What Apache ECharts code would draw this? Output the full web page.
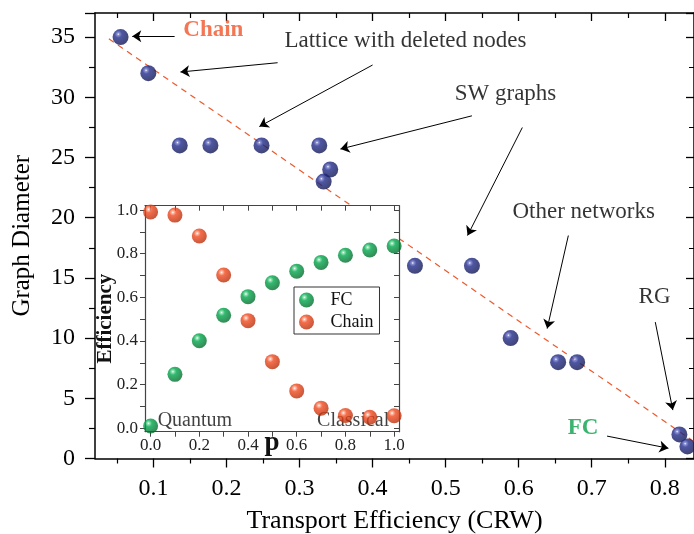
<!DOCTYPE html>
<html>
<head>
<meta charset="utf-8">
<script src="https://cdn.jsdelivr.net/npm/echarts@6/dist/echarts.min.js"></script>
<style>
html,body{margin:0;padding:0;background:#fff;}
#main{width:694px;height:534px;}
</style>
</head>
<body>
<div id="main"></div>
<script>
// main plot: transport efficiency vs graph diameter
var netPoints = [
	[0.055, 35], [0.093, 32], [0.136, 26], [0.178, 26], [0.248, 26],
	[0.327, 26], [0.342, 24], [0.333, 23], [0.458, 16], [0.536, 16],
	[0.589, 10], [0.654, 8], [0.680, 8], [0.820, 2], [0.831, 1]
];
var fitLine = [[0.039, 34.86], [0.840, 1.4]];
var xMajor = [0.1, 0.2, 0.3, 0.4, 0.5, 0.6, 0.7, 0.8];
var xMinor = [0.05, 0.15, 0.25, 0.35, 0.45, 0.55, 0.65, 0.75];

// inset: efficiency vs p
var pValues = [0, 0.1, 0.2, 0.3, 0.4, 0.5, 0.6, 0.7, 0.8, 0.9, 1.0];
var fcEff = [0.01, 0.247, 0.401, 0.518, 0.603, 0.667, 0.72, 0.76, 0.793, 0.817, 0.835];
var chainEff = [0.991, 0.977, 0.881, 0.702, 0.493, 0.305, 0.171, 0.092, 0.058, 0.05, 0.057];
var pTicks = [0, 0.1, 0.2, 0.3, 0.4, 0.5, 0.6, 0.7, 0.8, 0.9, 1.0];
var pLabels = [0, 0.2, 0.4, 0.6, 0.8, 1.0];

// annotations (data coords)
var notes = [
	{name: 'Chain', value: [0.182, 35.55], color: '#f0552a', bold: true},
	{name: 'Lattice with deleted nodes', value: [0.445, 34.67], color: '#000'},
	{name: 'SW graphs', value: [0.582, 30.26], color: '#000'},
	{name: 'Other networks', value: [0.689, 20.45], color: '#000'},
	{name: 'RG', value: [0.786, 13.41], color: '#000'},
	{name: 'FC', value: [0.688, 2.5], color: '#0aa04a', bold: true}
];
var arrows = [
	[[0.129, 35.06], [0.071, 35.06]],
	[[0.270, 32.87], [0.137, 32.1]],
	[[0.400, 32.68], [0.245, 27.57]],
	[[0.536, 28.46], [0.356, 25.7]],
	[[0.605, 27.49], [0.530, 18.52]],
	[[0.668, 18.52], [0.639, 10.79]],
	[[0.787, 11.33], [0.811, 4.02]],
	[[0.721, 1.86], [0.805, 0.85]]
];

var FONT = '"Liberation Serif", "Times New Roman", "DejaVu Serif", serif';

function ball(base, light, dark){
	return {
		type: 'radial', x: 0.36, y: 0.32, r: 0.75,
		colorStops: [
			{offset: 0, color: '#ffffff'},
			{offset: 0.1, color: light},
			{offset: 0.3, color: base},
			{offset: 1, color: dark}
		]
	};
}
var blueBall = ball('#222c8c', '#7078c8', '#0f144a');
var greenBall = ball('#00a84c', '#80dca4', '#036528');
var redBall = ball('#f24a1e', '#fbb09a', '#b22a08');

function pairs(xs, ys){
	var out = [];
	for(var i=0;i<xs.length;i++){ out.push([xs[i], ys[i]]); }
	return out;
}

var myChart = echarts.init(document.getElementById('main'), null, {renderer: 'canvas'});

var axisBlack = {onZero: false, lineStyle: {color: '#000', width: 1.5}};
var insetLine = {show: true, onZero: false, lineStyle: {color: '#444', width: 1.2}};

var option = {
	animation: false,
	backgroundColor: '#fff',
	textStyle: {fontFamily: FONT},
	grid: [
		{left: 95, right: 0, top: 13, bottom: 75.5, outerBoundsMode: 'none'},
		{left: 145, right: 295, top: 205.7, bottom: 102.3, outerBoundsMode: 'none', show: true, backgroundColor: '#fff', borderWidth: 0, z: 10}
	],
	legend: {
		data: ['FC', 'Chain'],
		orient: 'vertical',
		left: 294, top: 287,
		itemWidth: 38, itemHeight: 15, itemGap: 4,
		padding: [4, 6, 3, 5],
		borderColor: '#333', borderWidth: 1,
		backgroundColor: '#fff',
		textStyle: {fontFamily: FONT, fontSize: 18, color: '#111'},
		z: 13
	},
	xAxis: [
		{ // main bottom, major ticks + labels
			gridIndex: 0, type: 'value', min: 0.02, max: 0.84, position: 'bottom',
			axisLine: axisBlack,
			axisTick: {customValues: xMajor, length: 9, lineStyle: {color: '#000', width: 1.3}},
			axisLabel: {customValues: xMajor, formatter: function(v){return v.toFixed(1);}, fontFamily: FONT, fontSize: 24, color: '#000', margin: 18},
			splitLine: {show: false},
			name: 'Transport Efficiency (CRW)', nameLocation: 'middle', nameGap: 50, nameMoveOverlap: false,
			nameTextStyle: {fontFamily: FONT, fontSize: 26, color: '#000'}
		},
		{ // main bottom minor ticks
			gridIndex: 0, type: 'value', min: 0.02, max: 0.84, position: 'bottom',
			axisLine: {show: false, onZero: false},
			axisTick: {customValues: xMinor, length: 5, lineStyle: {color: '#000', width: 1.2}},
			axisLabel: {show: false}, splitLine: {show: false}
		},
		{ // main top
			gridIndex: 0, type: 'value', min: 0.02, max: 0.84, position: 'top',
			axisLine: axisBlack,
			axisTick: {customValues: xMajor, inside: true, length: 8, lineStyle: {color: '#000', width: 1.3}},
			axisLabel: {show: false}, splitLine: {show: false}
		},
		{
			gridIndex: 0, type: 'value', min: 0.02, max: 0.84, position: 'top',
			axisLine: {show: false, onZero: false},
			axisTick: {customValues: xMinor, inside: true, length: 5, lineStyle: {color: '#000', width: 1.2}},
			axisLabel: {show: false}, splitLine: {show: false}
		},
		{ // inset bottom
			gridIndex: 1, type: 'value', min: -0.023, max: 1.02, position: 'bottom', z: 11,
			axisLine: insetLine,
			axisTick: {customValues: pTicks, length: 5, lineStyle: {color: '#444'}},
			axisLabel: {customValues: pLabels, formatter: function(v){return v.toFixed(1);}, fontFamily: FONT, fontSize: 17, color: '#222', margin: 5},
			splitLine: {show: false},
			name: 'p', nameLocation: 'middle', nameGap: -2, nameMoveOverlap: false,
			nameTextStyle: {fontFamily: FONT, fontSize: 27, fontWeight: 'bold', color: '#111', backgroundColor: '#fff', padding: [0, 2]}
		},
		{
			gridIndex: 1, type: 'value', min: -0.023, max: 1.02, position: 'top', z: 11,
			axisLine: insetLine,
			axisTick: {customValues: pTicks, inside: true, length: 5, lineStyle: {color: '#444'}},
			axisLabel: {show: false}, splitLine: {show: false}
		}
	],
	yAxis: [
		{
			gridIndex: 0, type: 'value', min: 0, max: 37, interval: 5, position: 'left',
			axisLine: {show: true, onZero: false, lineStyle: {color: '#000', width: 1.5}},
			axisTick: {show: true, length: 10, lineStyle: {color: '#000', width: 1.3}},
			minorTick: {show: true, splitNumber: 2, length: 6, lineStyle: {color: '#000', width: 1.2}},
			axisLabel: {fontFamily: FONT, fontSize: 24, color: '#000', margin: 20, showMaxLabel: false},
			splitLine: {show: false},
			name: 'Graph Diameter', nameLocation: 'middle', nameGap: 60, nameMoveOverlap: false,
			nameTextStyle: {fontFamily: FONT, fontSize: 25, color: '#000'}
		},
		{
			gridIndex: 0, type: 'value', min: 0, max: 37, interval: 5, position: 'right',
			axisLine: {show: true, onZero: false, lineStyle: {color: '#000', width: 1.5}},
			axisTick: {show: true, inside: true, length: 8, lineStyle: {color: '#000', width: 1.3}},
			minorTick: {show: true, splitNumber: 2, length: 5, lineStyle: {color: '#000'}},
			axisLabel: {show: false}, splitLine: {show: false}
		},
		{ // inset left
			gridIndex: 1, type: 'value', min: -0.016, max: 1.02, position: 'left', z: 11,
			axisLine: insetLine,
			axisTick: {show: true, customValues: pTicks, length: 5, lineStyle: {color: '#444'}},
			axisLabel: {customValues: pLabels, formatter: function(v){return v.toFixed(1);}, fontFamily: FONT, fontSize: 17, color: '#222', margin: 7},
			splitLine: {show: false},
			name: 'Efficiency', nameLocation: 'middle', nameGap: 29, nameMoveOverlap: false,
			nameTextStyle: {fontFamily: FONT, fontSize: 21, fontWeight: 'bold', color: '#111'}
		},
		{
			gridIndex: 1, type: 'value', min: -0.016, max: 1.02, position: 'right', z: 11,
			axisLine: insetLine,
			axisTick: {show: true, customValues: pTicks, inside: true, length: 5, lineStyle: {color: '#444'}},
			axisLabel: {show: false}, splitLine: {show: false}
		}
	],
	series: [
		{
			name: 'fit', type: 'line', xAxisIndex: 0, yAxisIndex: 0,
			data: fitLine, symbol: 'none', z: 2,
			lineStyle: {color: '#f0582b', width: 1.2, type: [6, 5]}
		},
		{
			name: 'arrows', type: 'lines', coordinateSystem: 'cartesian2d', xAxisIndex: 0, yAxisIndex: 0,
			data: arrows.map(function(a){ return {coords: a}; }),
			symbol: ['none', 'arrow'], symbolSize: 9, z: 3,
			lineStyle: {color: '#000', width: 1, curveness: 0, opacity: 1}
		},
		{
			name: 'networks', type: 'scatter', xAxisIndex: 0, yAxisIndex: 0,
			data: netPoints, symbolSize: 16, z: 4,
			itemStyle: {color: blueBall}
		},
		{
			name: 'notes', type: 'scatter', xAxisIndex: 0, yAxisIndex: 0,
			symbolSize: 1, z: 5, silent: true,
			itemStyle: {color: 'transparent'},
			data: notes.map(function(n){
				return {
					name: n.name, value: n.value,
					label: {
						show: true, position: 'inside', formatter: '{b}',
						fontFamily: FONT, fontSize: 23, color: n.color,
						fontWeight: n.bold ? 'bold' : 'normal'
					}
				};
			})
		},
		{
			name: 'FC', type: 'scatter', xAxisIndex: 4, yAxisIndex: 2,
			data: pairs(pValues, fcEff), symbolSize: 15, z: 12,
			itemStyle: {color: greenBall}
		},
		{
			name: 'Chain', type: 'scatter', xAxisIndex: 4, yAxisIndex: 2,
			data: pairs(pValues, chainEff), symbolSize: 15, z: 12,
			itemStyle: {color: redBall}
		},
		{
			name: 'regime', type: 'scatter', xAxisIndex: 4, yAxisIndex: 2,
			symbolSize: 1, z: 11, silent: true,
			itemStyle: {color: 'transparent'},
			data: [
				{name: 'Quantum', value: [0.027, 0.035], label: {show: true, position: 'right', distance: 0, formatter: '{b}', fontFamily: FONT, fontSize: 20, color: '#111'}},
				{name: 'Classical', value: [0.982, 0.035], label: {show: true, position: 'left', distance: 0, formatter: '{b}', fontFamily: FONT, fontSize: 20, color: '#111'}}
			]
		}
	]
};
myChart.setOption(option);
</script>
</body>
</html>
